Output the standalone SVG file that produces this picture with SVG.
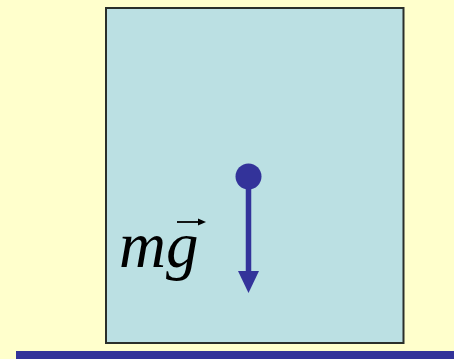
<svg xmlns="http://www.w3.org/2000/svg" width="454" height="359" viewBox="0 0 454 359">
  <defs>
    <style>
      .box { fill: #BBE0E3; stroke: #2a2f2a; stroke-width: 2; }
      .force { stroke: #33339A; stroke-width: 5.5; fill: none; }
      .head { fill: #33339A; }
      .lbl { font-family: "Liberation Serif", "Times New Roman", serif; font-style: italic; font-size: 65px; fill: #000; }
    </style>
  </defs>
  <rect x="0" y="0" width="454" height="359" fill="#FFFFCC"/>
  <rect x="16" y="351" width="438" height="8" fill="#333399"/>
  <g id="box">
    <rect class="box" x="106" y="8" width="297.5" height="335"/>
  </g>
  <g id="label">
    <text class="lbl" x="119" y="267">mg</text>
    <line x1="177" y1="222" x2="201" y2="222" stroke="#000" stroke-width="1.8"/>
    <polygon points="206,222 198,218.5 198,225.5" fill="#000"/>
  </g>
  <g id="connectors">
    <line class="force" x1="248.5" y1="176" x2="248.5" y2="274"/>
    <polygon class="head" points="238,271 259,271 248.5,293"/>
  </g>
  <g id="mass">
    <circle cx="248.5" cy="176.5" r="13" fill="#33339A"/>
  </g>
</svg>
